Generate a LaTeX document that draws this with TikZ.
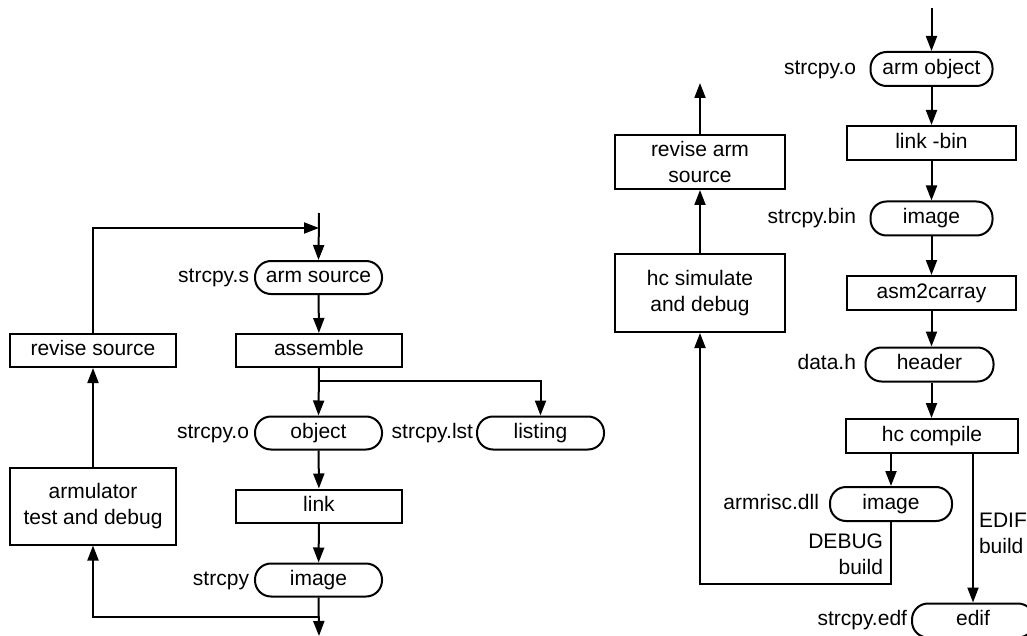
\documentclass[tikz,border=0pt]{standalone}
\usepackage{fontspec}
\setmainfont{Liberation Sans}
\usetikzlibrary{arrows.meta}
\begin{document}
\begin{tikzpicture}[x=1pt,y=-1pt,
  font=\fontsize{21}{26}\selectfont,
  line width=2pt,
  >={Triangle[length=15pt,width=11pt]},
  oneline/.style={text height=15pt,text depth=4.5pt},
  proc/.style={draw,rectangle,inner sep=0pt,minimum width=166pt,minimum height=33pt,align=center},
  data/.style={draw,rectangle,rounded corners=16pt,inner sep=0pt,minimum width=127pt,minimum height=33pt,oneline},
  lbl/.style={anchor=east,inner sep=0pt,oneline},
  note/.style={inner sep=0pt,align=right}]
\useasboundingbox (0,0) rectangle (1027,636);
% ---------- left flow ----------
\node[data] (armsrc) at (318.5,277.5) {arm source};
\node[lbl] (larmsrc) at (250,277.5) {strcpy.s};
\node[proc,oneline] (assemble) at (319,350.5) {assemble};
\node[proc,oneline] (revsrc) at (93,350.5) {revise source};
\node[data] (object) at (318.5,433) {object};
\node[lbl] (lobject) at (250,433) {strcpy.o};
\node[data] (listing) at (540.5,433) {listing};
\node[lbl] (llisting) at (474,433) {strcpy.lst};
\node[proc,oneline] (link) at (319,506) {link};
\node[data] (image1) at (318.5,580) {image};
\node[lbl] (limage1) at (250,580) {strcpy};
\node[proc,minimum height=77pt] (armul) at (93,506) {armulator\\test and debug};
\coordinate (ltop) at (319,213);
\coordinate (ljoin) at (319,228);
\coordinate (lbranch) at (319,381);
\coordinate (lbot) at (319,636);
\coordinate (lret) at (319,617);
\draw[->] (ltop) -- (armsrc.north);
\draw[->] (revsrc.north) |- (ljoin);
\draw[->] (armsrc) -- (assemble);
\draw[->] (assemble.south) -- (object.north);
\draw[->] (lbranch) -| (listing.north);
\draw[->] (object) -- (link);
\draw[->] (link) -- (image1);
\draw[->] (image1.south) -- (lbot);
\draw[->] (lret) -| (armul.south);
\draw[->] (armul.north) -- (revsrc.south);
% ---------- right flow ----------
\node[data,minimum width=122pt,minimum height=34pt] (armobj) at (931.5,69) {arm object};
\node[lbl] (larmobj) at (857,69) {strcpy.o};
\node[proc,oneline,minimum width=169pt,minimum height=34pt] (linkbin) at (931.5,143) {link -bin};
\node[data,minimum width=122pt,minimum height=34pt] (image2) at (931.5,218.5) {image};
\node[lbl] (limage2) at (857,218.5) {strcpy.bin};
\node[proc,oneline,minimum width=169pt,minimum height=34pt] (asm2c) at (931.5,293) {asm2carray};
\node[data,minimum width=128pt,minimum height=34pt] (header) at (929.5,364.5) {header};
\node[lbl] (lheader) at (857,364.5) {data.h};
\node[proc,oneline,minimum width=172pt,minimum height=34pt] (hccomp) at (932,436) {hc compile};
\node[data,minimum width=122pt,minimum height=34pt] (image3) at (891,504) {image};
\node[lbl] (limage3) at (820,504) {armrisc.dll};
\node[data,minimum width=122pt,minimum height=34pt] (edif) at (973,620.5) {edif};
\node[lbl] (ledif) at (908,620.5) {strcpy.edf};
\node[proc,minimum width=170pt,minimum height=54pt] (revarm) at (700,162) {revise arm\\source};
\node[proc,minimum width=170pt,minimum height=78pt] (hcsim) at (700,293) {hc simulate\\and debug};
\node[note,anchor=east] (ndebug) at (884,554) {DEBUG\\build};
\node[note,anchor=west,align=left] (nedif) at (978,533) {EDIF\\build};
\coordinate (rtop) at (931.5,8);
\coordinate (rout) at (700,83);
\coordinate (rret) at (891,584);
\draw[->] (rtop) -- (armobj.north);
\draw[->] (armobj) -- (linkbin);
\draw[->] (linkbin) -- (image2);
\draw[->] (image2) -- (asm2c);
\draw[->] (asm2c.south) -- (asm2c.south |- header.north);
\draw[->] (header.south -| asm2c.south) -- (asm2c.south |- hccomp.north);
\draw[->] (hccomp.south -| image3.north) -- (image3.north);
\draw[->] (hccomp.south -| edif.north) -- (edif.north);
\draw[->] (image3.south) -- (rret) -| (hcsim.south);
\draw[->] (hcsim.north) -- (revarm.south);
\draw[->] (revarm.north) -- (rout);
\end{tikzpicture}
\end{document}
